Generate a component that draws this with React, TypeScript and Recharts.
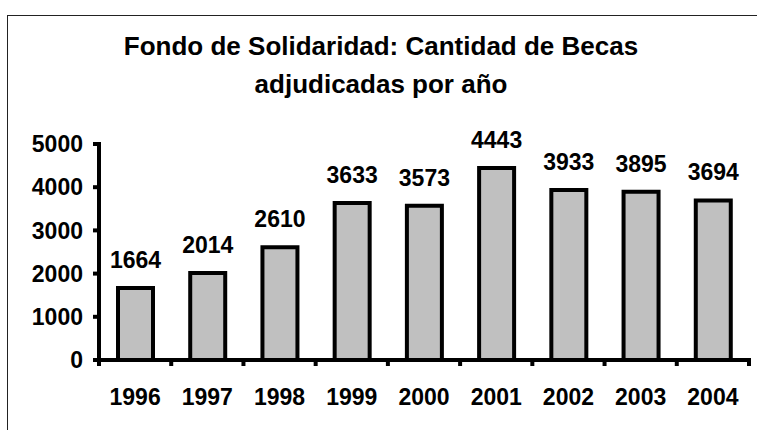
import { BarChart, Bar, XAxis, YAxis, LabelList } from "recharts"

const FONT = '"Liberation Sans", Arial, Helvetica, sans-serif'

// Becas adjudicadas por año
const years = ["1996", "1997", "1998", "1999", "2000", "2001", "2002", "2003", "2004"]
const becas = [1664, 2014, 2610, 3633, 3573, 4443, 3933, 3895, 3694]
const yTicks = [0, 1000, 2000, 3000, 4000, 5000]
const titleLines = ["Fondo de Solidaridad: Cantidad de Becas", "adjudicadas por año"]

const chartData = years.map((year, i) => ({ year, becas: becas[i] }))

// Excel style: tick marks between categories, label in the middle
const YearTick = (props: any) => {
  const { x, y, payload, index } = props
  const half = payload?.offset ?? 0
  const last = index === years.length - 1
  return (
    <g>
      <line x1={x - half} x2={x - half} y1={y - 6} y2={y} stroke="#000" strokeWidth={4} />
      {last && <line x1={x + half} x2={x + half} y1={y - 6} y2={y} stroke="#000" strokeWidth={4} />}
      <text x={x} y={y + 39} textAnchor="middle" fill="#000" fontSize={23} fontWeight="bold" fontFamily={FONT}>
        {payload.value}
      </text>
    </g>
  )
}

export default function App() {
  return (
    <div
      style={{
        position: "absolute",
        left: 0,
        top: 0,
        width: 757,
        height: 430,
        overflow: "hidden",
        background: "#fff",
      }}
    >
      <div
        style={{
          position: "absolute",
          left: 7,
          top: 15,
          width: 800,
          height: 500,
          border: "1px solid #222",
        }}
      />
      <div
        style={{
          position: "absolute",
          left: 81,
          top: 27,
          width: 600,
          textAlign: "center",
          fontFamily: FONT,
          fontWeight: "bold",
          fontSize: 26,
          lineHeight: "38px",
          color: "#000",
        }}
      >
        {titleLines.map((line) => (
          <div key={line}>{line}</div>
        ))}
      </div>
      <div style={{ position: "absolute", left: 0, top: 0 }}>
        <BarChart width={757} height={430} data={chartData} margin={{ top: 144, right: 8, bottom: 20, left: 0 }}>
          <XAxis
            dataKey="year"
            height={50}
            tickSize={6}
            tickMargin={0}
            tickLine={false}
            axisLine={{ stroke: "#000", strokeWidth: 4, strokeLinecap: "square" }}
            tick={<YearTick />}
            interval={0}
          />
          <YAxis
            width={99}
            domain={[0, 5000]}
            ticks={yTicks}
            interval={0}
            tickSize={6}
            tickMargin={10}
            axisLine={{ stroke: "#000", strokeWidth: 4, strokeLinecap: "square" }}
            tickLine={{ stroke: "#000", strokeWidth: 4 }}
            tick={{ fill: "#000", fontSize: 23, fontWeight: "bold", fontFamily: FONT }}
          />
          <Bar dataKey="becas" fill="#c0c0c0" stroke="#000" strokeWidth={4} barSize={35} isAnimationActive={false}>
            <LabelList
              dataKey="becas"
              position="top"
              offset={20}
              fill="#000"
              fontSize={23}
              fontWeight="bold"
              fontFamily={FONT}
            />
          </Bar>
        </BarChart>
      </div>
    </div>
  )
}
